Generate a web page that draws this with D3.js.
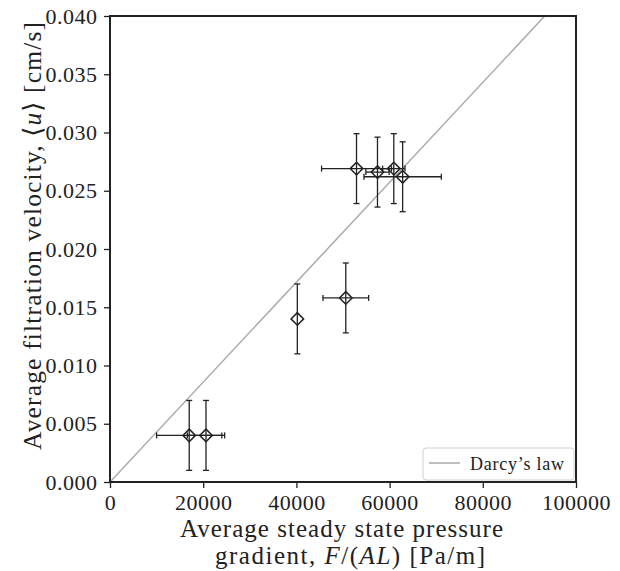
<!DOCTYPE html>
<html><head><meta charset="utf-8">
<script src="https://cdn.jsdelivr.net/npm/d3@7"></script>
<style>body{margin:0;background:#fff}svg{display:block}</style>
</head><body><svg id="c" width="620" height="571"></svg>
<script>
const gradient = [17000, 20600, 40200, 50600, 52900, 57400, 60900, 62800];
const velocity = [0.004, 0.004, 0.014, 0.0158, 0.0269, 0.0266, 0.0269, 0.0262];
const gradientErr = [7000, 4000, 0, 4900, 7500, 2500, 2400, 8300];
const velocityErr = [0.003, 0.003, 0.003, 0.003, 0.003, 0.003, 0.003, 0.003];
const darcySlope = 0.04 / 93300;
const xTicks = [0, 20000, 40000, 60000, 80000, 100000];
const yTicks = [0, 0.005, 0.01, 0.015, 0.02, 0.025, 0.03, 0.035, 0.04];

const FONT = "'Liberation Serif', 'DejaVu Serif', serif";
const INK = "#222";
const svg = d3.select("#c").attr("font-family", FONT);
const L = 110, R = 576, T = 16, B = 482;
const x = d3.scaleLinear().domain([0, 100000]).range([L, R]);
const y = d3.scaleLinear().domain([0, 0.04]).range([B, T]);

svg.append("defs").append("clipPath").attr("id","clip").append("rect")
  .attr("x",L).attr("y",T).attr("width",R-L).attr("height",B-T);

// Darcy's law line
svg.append("line").attr("clip-path","url(#clip)")
  .attr("x1", x(0)).attr("y1", y(0)).attr("x2", x(100000)).attr("y2", y(darcySlope*100000))
  .attr("stroke","#aaaaaa").attr("stroke-width",1.5);

// error bars
const pts = gradient.map((g,i)=>({g, v:velocity[i], ge:gradientErr[i], ve:velocityErr[i]}));
const eb = svg.append("g").attr("stroke",INK).attr("stroke-width",1.3).attr("fill","none");
const cap = 3;
pts.forEach(p=>{
  eb.append("line").attr("x1",x(p.g)).attr("x2",x(p.g)).attr("y1",y(p.v-p.ve)).attr("y2",y(p.v+p.ve));
  [p.v-p.ve,p.v+p.ve].forEach(vv=>eb.append("line").attr("x1",x(p.g)-cap).attr("x2",x(p.g)+cap).attr("y1",y(vv)).attr("y2",y(vv)));
  if (p.ge>0){
    eb.append("line").attr("y1",y(p.v)).attr("y2",y(p.v)).attr("x1",x(p.g-p.ge)).attr("x2",x(p.g+p.ge));
    [p.g-p.ge,p.g+p.ge].forEach(gg=>eb.append("line").attr("y1",y(p.v)-cap).attr("y2",y(p.v)+cap).attr("x1",x(gg)).attr("x2",x(gg)));
  }
});
// diamond markers
const s = 6.3;
svg.append("g").selectAll("path").data(pts).join("path")
  .attr("d", p=>`M${x(p.g)},${y(p.v)-s}L${x(p.g)+s},${y(p.v)}L${x(p.g)},${y(p.v)+s}L${x(p.g)-s},${y(p.v)}Z`)
  .attr("fill","none").attr("stroke",INK).attr("stroke-width",1.5);

// axes
const xa = svg.append("g").attr("transform",`translate(0,${B})`)
  .call(d3.axisBottom(x).tickValues(xTicks).tickFormat(d3.format("d")).tickSize(6).tickPadding(6.5));
const ya = svg.append("g").attr("transform",`translate(${L},0)`)
  .call(d3.axisLeft(y).tickValues(yTicks).tickFormat(d3.format(".3f")).tickSize(6).tickPadding(6.5));
[xa,ya].forEach(a=>{a.attr("font-family",FONT).attr("font-size",22);
  a.select(".domain").remove();
  a.selectAll(".tick line").attr("stroke",INK).attr("stroke-width",1.3);
  a.selectAll(".tick text").attr("fill",INK).attr("letter-spacing",0.5);});
svg.append("rect").attr("x",L).attr("y",T).attr("width",R-L).attr("height",B-T)
  .attr("fill","none").attr("stroke",INK).attr("stroke-width",2);

// legend
const lg = svg.append("g");
lg.append("rect").attr("x",423).attr("y",448).attr("width",151).attr("height",32).attr("rx",3)
  .attr("fill","#fff").attr("fill-opacity",0.8).attr("stroke","#d0d0d0").attr("stroke-width",1);
lg.append("line").attr("x1",429).attr("x2",460).attr("y1",463).attr("y2",463).attr("stroke","#aaaaaa").attr("stroke-width",1.5);
lg.append("text").attr("x",470).attr("y",469.5).attr("font-size",18).attr("fill",INK)
  .attr("textLength",94).attr("lengthAdjust","spacing").text("Darcy\u2019s law");

// x label (two lines)
svg.append("text").attr("text-anchor","middle").attr("font-size",25).attr("fill",INK)
  .attr("x",341.5).attr("y",537).attr("textLength",323).attr("lengthAdjust","spacing")
  .text("Average steady state pressure");
const l2 = svg.append("text").attr("text-anchor","middle").attr("font-size",25).attr("fill",INK)
  .attr("x",350).attr("y",564).attr("textLength",270).attr("lengthAdjust","spacing");
l2.append("tspan").text("gradient, ");
l2.append("tspan").attr("font-style","italic").text("F");
l2.append("tspan").text("/(");
l2.append("tspan").attr("font-style","italic").text("AL");
l2.append("tspan").text(") [Pa/m]");

// y label
const yl = svg.append("text").attr("text-anchor","middle").attr("font-size",25.5).attr("fill",INK)
  .attr("transform",`translate(41,236) rotate(-90)`).attr("textLength",428).attr("lengthAdjust","spacing");
yl.append("tspan").text("Average filtration velocity, \u27E8");
yl.append("tspan").attr("font-style","italic").text("u");
yl.append("tspan").text("\u27E9 [cm/s]");
</script></body></html>
